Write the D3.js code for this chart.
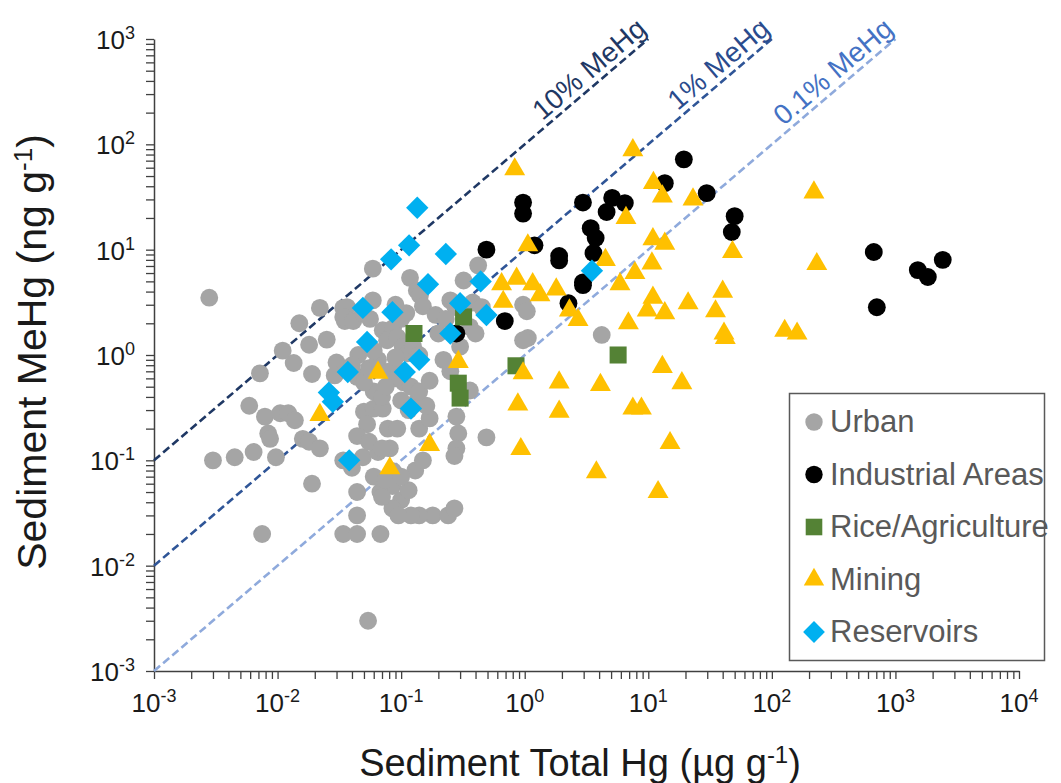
<!DOCTYPE html>
<html>
<head>
<meta charset="utf-8">
<script src="https://cdn.jsdelivr.net/npm/d3@7"></script>
<style>
body { margin: 0; background: #fff; }
text { font-family: "Liberation Sans", Arial, sans-serif; }
</style>
</head>
<body>
<script>
// categorie e dati: [Hg totale (ug/g), MeHg (ng/g)]
var categories = ["Urban", "Industrial Areas", "Rice/Agriculture", "Mining", "Reservoirs"];

var urban = [
  [0.0028,3.5],[0.022,2.8],[0.015,2.0],[0.025,1.4],[0.018,1.25],[0.011,1.1],[0.0135,0.84],[0.0072,0.67],
  [0.019,0.66],[0.030,0.85],[0.035,2.1],[0.034,2.8],[0.059,6.6],[0.118,5.4],[0.134,4.1],[0.142,3.7],
  [0.32,5.1],[0.42,7.1],[0.97,3.0],[1.06,1.45],[4.2,1.55],[0.49,0.165],[0.0365,2.85],[0.034,2.3],
  [0.041,2.1],[0.049,2.5],[0.056,2.2],[0.059,3.3],[0.071,1.72],[0.086,1.8],[0.077,1.38],[0.093,1.48],
  [0.103,1.19],[0.113,1.04],[0.125,1.2],[0.14,1.0],[0.2,1.6],[0.25,3.3],[0.275,2.85],[0.38,3.15],
  [0.45,2.85],[0.36,1.85],[0.4,1.6],[1.04,2.6],[0.97,1.38],[0.029,0.64],[0.044,0.62],[0.0059,0.33],
  [0.0079,0.26],[0.0105,0.28],[0.0122,0.28],[0.0138,0.24],[0.0084,0.18],[0.0087,0.16],[0.016,0.16],
  [0.018,0.15],[0.022,0.13],[0.003,0.1],[0.0045,0.107],[0.0064,0.12],[0.0097,0.107],[0.019,0.06],
  [0.0075,0.02],[0.054,0.003],[0.034,0.1],[0.04,0.085],[0.049,0.107],[0.065,0.12],[0.044,0.05],
  [0.044,0.03],[0.034,0.02],[0.044,0.02],[0.068,0.02],[0.05,0.29],[0.053,0.22],[0.044,0.17],[0.06,0.31],
  [0.071,0.31],[0.078,0.2],[0.081,0.13],[0.093,0.2],[0.086,0.079],[0.085,0.057],[0.068,0.05],
  [0.28,0.26],[0.29,0.18],[0.28,0.13],[0.27,0.11],[0.18,0.03],[0.24,0.03],[0.27,0.035],[0.14,0.03],
  [0.12,0.03],[0.1,0.042],[0.115,0.052],[0.13,0.08],[0.15,0.1],[0.14,0.2],[0.17,0.25],[0.1,0.37],
  [0.115,0.3],[0.135,0.37],[0.16,0.33],[0.105,0.55],[0.12,0.5],[0.14,0.45],[0.1,0.7],[0.17,0.57],
  [0.36,0.46],[0.06,0.45],[0.07,0.4],[0.05,0.55],[0.055,0.75],[0.065,0.9],[0.08,0.7],[0.09,0.6],
  [0.075,0.5],[0.09,0.95],[0.045,1.0],[0.04,0.8],[0.06,1.1],[0.1,2.2],[0.11,2.5],[0.09,3.0],
  [0.15,2.9],[0.19,2.4],[0.23,2.2],[0.3,1.2],[0.22,0.9],[0.25,0.7],[0.085,0.035],[0.07,0.045],
  [0.06,0.07],[0.075,0.065],[0.095,0.03],[0.1,0.07],[0.055,0.15],[0.07,0.13]
];

var industrial = [
  [0.49,10],[0.69,2.1],[0.97,28],[0.97,22],[1.2,11],[1.9,8.7],[1.9,7.9],[2.96,28],[5.1,31],[4.6,22.8],
  [6.46,27.7],[3.42,16],[3.75,12.9],[3.6,9.3],[2.96,4.9],[2.96,4.6],[2.26,3.1],[19.4,72],[13.6,42.8],
  [29.7,34.4],[50,20.8],[47.4,14.7],[668,9.5],[707,2.84],[1517,6.4],[1829,5.5],[2415,8.0],[0.28,1.6]
];

var rice = [
  [0.127,1.6],[0.32,2.3],[0.85,0.79],[5.7,1.0],[0.29,0.54],[0.3,0.39]
];

var mining = [
  [0.83,58],[7.5,88],[11,43],[13,32],[23,30],[6.6,20],[1.06,11],[10.9,12.6],[13.6,11.4],[48,9.5],
  [4.5,8.0],[10.7,7.4],[7.8,6.0],[5.9,4.7],[0.86,5.3],[0.65,4.7],[1.16,4.7],[1.33,3.7],[1.8,4.2],
  [0.67,3.2],[2.3,2.65],[2.7,2.15],[10.9,3.5],[9.8,2.65],[13.6,2.5],[21,3.1],[40,4.0],[35,2.6],
  [6.9,2.0],[41,1.6],[42,1.45],[13,0.77],[219,35],[231,7.3],[127,1.7],[160,1.6],[0.97,0.67],
  [1.9,0.55],[4.1,0.52],[18.7,0.54],[0.88,0.34],[1.9,0.29],[7.5,0.31],[8.8,0.31],[15,0.146],
  [0.93,0.128],[3.8,0.077],[12,0.05],[0.022,0.27],[0.081,0.084],[0.065,0.68],[0.29,0.86],[0.17,0.14]
];

var reservoirs = [
  [0.135,25],[0.116,11],[0.083,8.1],[0.23,9.1],[0.165,4.7],[0.44,5.0],[0.049,2.8],[0.085,2.55],
  [0.3,3.1],[0.49,2.4],[0.053,1.33],[0.25,1.6],[0.14,0.9],[0.037,0.69],[0.107,0.69],[0.026,0.44],
  [0.028,0.36],[0.038,0.1],[0.12,0.31],[3.5,6.3]
];

var xExponents = [-3, -2, -1, 0, 1, 2, 3, 4];
var yExponents = [-3, -2, -1, 0, 1, 2, 3];
var ratioLabels = ["10% MeHg", "1% MeHg", "0.1% MeHg"];
var ratioFractions = [0.1, 0.01, 0.001];

// stili
var w = 1061, h = 783;
var plotLeft = 154, plotRight = 1019, plotTop = 39, plotBottom = 671;
var colors = ["#a5a5a5", "#000000", "#548235", "#ffc000", "#00b0f0"];
var lineColors = ["#1f3864", "#2f5597", "#8faadc"];
var labelColors = ["#1f3864", "#2a4b8d", "#4472c4"];

var svg = d3.select("body").append("svg")
  .attr("width", w)
  .attr("height", h);

var x = d3.scaleLog().domain([1e-3, 1e4]).range([plotLeft, plotRight]);
var y = d3.scaleLog().domain([1e-3, 1e3]).range([plotBottom, plotTop]);

function minorTicks(exps) {
  var t = [];
  for (var i = 0; i < exps.length - 1; i++) {
    for (var k = 1; k < 10; k++) t.push(k * Math.pow(10, exps[i]));
  }
  t.push(Math.pow(10, exps[exps.length - 1]));
  return t;
}

// assi
var xAxis = svg.append("g")
  .attr("transform", "translate(0," + plotBottom + ")")
  .call(d3.axisBottom(x).tickValues(minorTicks(xExponents)).tickFormat("").tickSize(8).tickSizeOuter(0));
var yAxis = svg.append("g")
  .attr("transform", "translate(" + plotLeft + ",0)")
  .call(d3.axisLeft(y).tickValues(minorTicks(yExponents)).tickFormat("").tickSize(8).tickSizeOuter(0));

[xAxis, yAxis].forEach(function(a) {
  a.select(".domain").attr("stroke", "#404040").attr("stroke-width", 1.5);
  a.selectAll(".tick line").attr("stroke", "#404040").attr("stroke-width", 1.3);
});

xExponents.forEach(function(e) {
  var t = svg.append("text")
    .attr("x", x(Math.pow(10, e)))
    .attr("y", 712)
    .attr("text-anchor", "middle")
    .attr("font-size", 26)
    .attr("fill", "#1a1a1a");
  t.append("tspan").text("10");
  t.append("tspan").attr("dy", -10).attr("font-size", 18).text(e);
});

yExponents.forEach(function(e) {
  var t = svg.append("text")
    .attr("x", 135)
    .attr("y", y(Math.pow(10, e)) + 10)
    .attr("text-anchor", "end")
    .attr("font-size", 26)
    .attr("fill", "#1a1a1a");
  t.append("tspan").text("10");
  t.append("tspan").attr("dy", -10).attr("font-size", 18).text(e);
});

// titoli degli assi
var xt = svg.append("text")
  .attr("x", 580).attr("y", 776)
  .attr("text-anchor", "middle")
  .attr("font-size", 38)
  .attr("fill", "#1a1a1a");
xt.append("tspan").text("Sediment Total Hg (\u00b5g g");
xt.append("tspan").attr("dy", -13).attr("font-size", 24).text("-1");
xt.append("tspan").attr("dy", 13).text(")");

var yt = svg.append("text")
  .attr("transform", "translate(46,352) rotate(-90)")
  .attr("text-anchor", "middle")
  .attr("font-size", 41)
  .attr("fill", "#1a1a1a");
yt.append("tspan").text("Sediment MeHg (ng g");
yt.append("tspan").attr("dy", -14).attr("font-size", 26).text("-1");
yt.append("tspan").attr("dy", 14).text(")");

// linee % MeHg
var angle = Math.atan2(y(1) - y(10), x(10) - x(1)) * 180 / Math.PI;
ratioFractions.forEach(function(f, i) {
  var x0 = 1e-3, x1 = 1 / f;   // MeHg(ng/g) = f * THg(ug/g) * 1000
  svg.append("line")
    .attr("x1", x(x0)).attr("y1", y(f * x0 * 1000))
    .attr("x2", x(x1)).attr("y2", y(f * x1 * 1000))
    .attr("stroke", lineColors[i])
    .attr("stroke-width", 2.6)
    .attr("stroke-dasharray", "8,4");
  svg.append("text")
    .attr("transform", "translate(" + (x(x1) + 6) + "," + y(f * x1 * 1000) + ") rotate(" + (-angle) + ")")
    .attr("dy", -10)
    .attr("text-anchor", "end")
    .attr("font-size", 28)
    .attr("fill", labelColors[i])
    .text(ratioLabels[i]);
});

// simboli
var diamond = { draw: function(ctx, size) {
  var r = Math.sqrt(size / 2);
  ctx.moveTo(0, -r); ctx.lineTo(r, 0); ctx.lineTo(0, r); ctx.lineTo(-r, 0); ctx.closePath();
}};
var symbols = [d3.symbolCircle, d3.symbolCircle, d3.symbolSquare, d3.symbolTriangle, diamond];
var sizes = [250, 250, 290, 190, 250];
var series = [urban, industrial, rice, mining, reservoirs];

series.forEach(function(data, i) {
  svg.append("g").selectAll("path")
    .data(data)
    .enter().append("path")
    .attr("transform", function(d) { return "translate(" + x(d[0]) + "," + y(d[1]) + ")"; })
    .attr("d", d3.symbol().type(symbols[i]).size(sizes[i]))
    .attr("fill", colors[i]);
});

// legenda
var lg = svg.append("g");
lg.append("rect")
  .attr("x", 789.5).attr("y", 393.5)
  .attr("width", 255).attr("height", 267)
  .attr("fill", "#fff")
  .attr("stroke", "#595959")
  .attr("stroke-width", 1.5);
categories.forEach(function(c, i) {
  var cy = 422 + i * 52.5;
  lg.append("path")
    .attr("transform", "translate(814," + cy + ")")
    .attr("d", d3.symbol().type(symbols[i]).size(sizes[i] * 0.95))
    .attr("fill", colors[i]);
  lg.append("text")
    .attr("x", 830).attr("y", cy + 10)
    .attr("font-size", 31)
    .attr("fill", "#595959")
    .text(c);
});
</script>
</body>
</html>
